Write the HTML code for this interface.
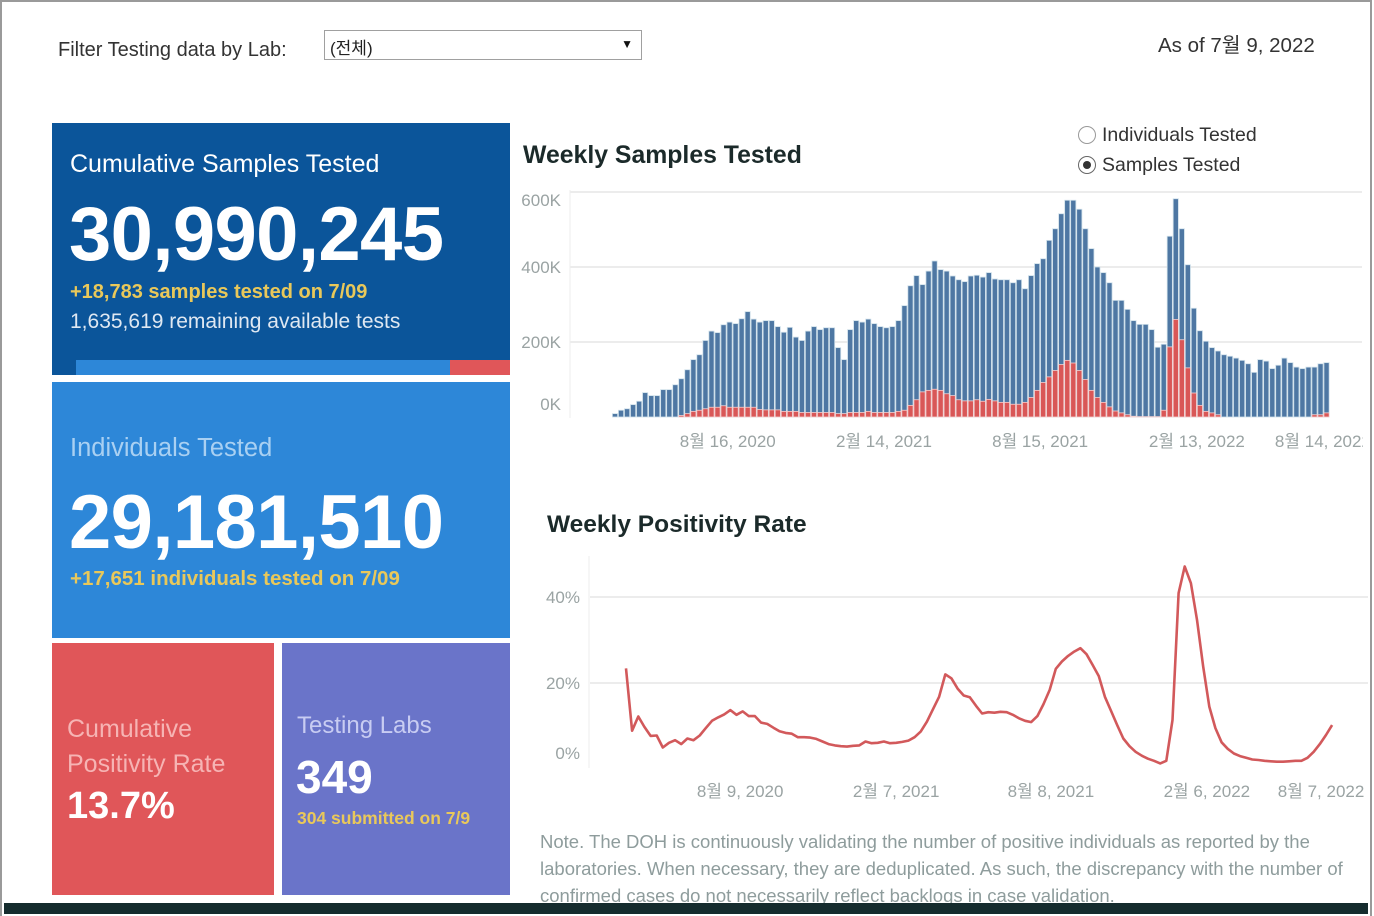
<!DOCTYPE html>
<html><head><meta charset="utf-8">
<style>
html,body{margin:0;padding:0}
body{width:1374px;height:916px;position:relative;overflow:hidden;background:#fff;font-family:"Liberation Sans","Noto Sans CJK KR",sans-serif}
.abs{position:absolute;white-space:nowrap}
.panel{position:absolute}
</style></head><body>
<div class="abs" style="left:0;top:0;width:1368px;height:914px;border-left:2px solid #9a9a9a;border-top:2px solid #9a9a9a;border-right:2px solid #9a9a9a"></div>
<div class="abs" style="left:4px;top:903px;width:1364px;height:11px;background:#152c2e"></div>

<div class="abs" style="left:58px;top:39px;font-size:20px;color:#333">Filter Testing data by Lab:</div>
<div class="abs" style="left:324px;top:30px;width:316px;height:28px;border:1px solid #a0a0a0;background:#fff">
 <span style="position:absolute;left:5px;top:3px;font-size:17px;color:#222">(전체)</span>
 <span style="position:absolute;right:8px;top:6px;font-size:12px;color:#111">▼</span>
</div>
<div class="abs" style="left:1158px;top:28px;font-size:20.5px;color:#333">As of 7월 9, 2022</div>

<div class="panel" style="left:52px;top:123px;width:458px;height:252px;background:#0b559a">
 <div class="abs" style="left:18px;top:27px;font-size:25px;color:#fff">Cumulative Samples Tested</div>
 <div class="abs" style="left:17px;top:68px;font-size:76px;font-weight:bold;color:#fff;letter-spacing:-0.6px">30,990,245</div>
 <div class="abs" style="left:18px;top:158px;font-size:20px;font-weight:bold;color:#e9c85a">+18,783 samples tested on 7/09</div>
 <div class="abs" style="left:18px;top:187px;font-size:21px;color:#dfe8f2">1,635,619 remaining available tests</div>
 <div class="abs" style="left:24px;top:237px;width:374px;height:15px;background:#2d87d8"></div>
 <div class="abs" style="left:398px;top:237px;width:60px;height:15px;background:#e05659"></div>
</div>

<div class="panel" style="left:52px;top:382px;width:458px;height:256px;background:#2d87d8">
 <div class="abs" style="left:18px;top:52px;font-size:25.5px;color:#a9d0f2">Individuals Tested</div>
 <div class="abs" style="left:17px;top:97px;font-size:76px;font-weight:bold;color:#fff;letter-spacing:-0.6px">29,181,510</div>
 <div class="abs" style="left:18px;top:185px;font-size:20.5px;font-weight:bold;color:#e9c85a">+17,651 individuals tested on 7/09</div>
</div>

<div class="panel" style="left:52px;top:643px;width:222px;height:252px;background:#e05659">
 <div class="abs" style="left:15px;top:69px;font-size:25px;line-height:35px;color:#f6b4b4">Cumulative<br>Positivity Rate</div>
 <div class="abs" style="left:15px;top:142px;font-size:38px;font-weight:bold;color:#fff">13.7%</div>
</div>

<div class="panel" style="left:282px;top:643px;width:228px;height:252px;background:#6a74c9">
 <div class="abs" style="left:15px;top:69px;font-size:24px;color:#c8ccf2">Testing Labs</div>
 <div class="abs" style="left:14px;top:107px;font-size:46px;font-weight:bold;color:#fff">349</div>
 <div class="abs" style="left:15px;top:165px;font-size:17.5px;font-weight:bold;color:#e9c85a">304 submitted on 7/9</div>
</div>

<div class="abs" style="left:523px;top:142px;font-size:24.8px;font-weight:bold;color:#1b2a2a">Weekly Samples Tested</div>
<div class="abs" style="left:1078px;top:124px;font-size:19.5px;color:#333"><span style="display:inline-block;width:16px;height:16px;border:1px solid #999;border-radius:50%;vertical-align:-3px;margin-right:6px"></span>Individuals Tested</div>
<div class="abs" style="left:1078px;top:154px;font-size:19.5px;color:#333"><span style="display:inline-block;width:16px;height:16px;border:1px solid #666;border-radius:50%;vertical-align:-3px;margin-right:6px;position:relative"><span style="position:absolute;left:4px;top:4px;width:8px;height:8px;border-radius:50%;background:#333"></span></span>Samples Tested</div>
<div class="abs" style="left:547px;top:511px;font-size:24.5px;font-weight:bold;color:#1b2a2a">Weekly Positivity Rate</div>
<div class="abs" style="left:540px;top:828px;width:828px;height:75px;overflow:hidden;white-space:normal;font-size:18.5px;line-height:27px;color:#8e9c9c">Note. The DOH is continuously validating the number of positive individuals as reported by the laboratories. When necessary, they are deduplicated. As such, the discrepancy with the number of confirmed cases do not necessarily reflect backlogs in case validation.</div>

<svg id="charts" width="1374" height="916" style="position:absolute;left:0;top:0" font-family="Liberation Sans, sans-serif">
 <defs><clipPath id="bc"><rect x="560" y="180" width="803" height="280"/></clipPath></defs>
 <g id="barAxis"></g>
 <g id="barChart" clip-path="url(#bc)"></g>
 <g id="lineChart"></g>
</svg>

<script>
const samples = [9,18,22,33,42,65,57,57,73,73,86,102,126,153,166,204,229,225,246,253,249,262,281,261,253,257,257,241,226,239,213,204,229,241,233,238,238,185,153,233,257,253,261,249,241,238,241,257,297,350,377,353,389,416,393,389,376,366,361,376,378,373,385,368,366,366,358,366,342,377,409,422,471,502,542,578,578,554,502,449,400,385,358,311,311,287,257,247,247,233,186,194,482,582,502,406,290,230,202,185,176,166,162,157,151,142,119,153,149,129,138,157,145,133,129,133,133,142,145];
const positives = [0,0,0,0,0,0,0,0,0,0,0,4,9,15,18,22,26,26,30,26,26,26,26,26,20,19,19,19,15,15,15,12,12,12,12,12,12,9,9,12,12,12,15,12,12,12,12,15,18,31,46,67,71,74,71,62,57,46,43,43,46,42,47,43,39,39,34,34,39,52,71,92,107,124,140,151,144,124,100,71,52,39,27,16,11,6,2,1,1,1,1,18,187,260,206,131,64,31,15,11,6,0,0,0,0,0,0,0,0,0,0,0,0,0,0,0,6,6,11];
const barTicks = [0,200,400,600];
const barTickLabels = ["0K","200K","400K","600K"];
const barDateIdx = [18.7,44.6,70.5,96.5,117.4];
const barDateLabels = ["8월 16, 2020","2월 14, 2021","8월 15, 2021","2월 13, 2022","8월 14, 2022"];

const positivity = [23.4,8.9,12.2,9.8,7.7,7.8,5.0,6.1,6.7,5.8,7.1,6.7,7.8,9.5,11.2,12.0,12.7,13.7,12.6,13.4,12.3,12.3,10.8,10.5,9.6,8.8,8.4,8.2,7.4,7.4,7.3,7.0,6.4,5.8,5.5,5.3,5.2,5.4,5.5,6.4,6.0,6.1,6.4,6.0,6.1,6.3,6.6,7.4,8.7,11.0,13.9,16.8,22.0,21.1,18.7,17.1,16.7,14.7,12.9,13.2,13.1,13.3,13.2,12.6,11.8,11.2,10.9,12.3,15.1,18.4,23.3,25.0,26.3,27.3,28.1,26.7,24.2,21.6,16.8,13.5,10.2,7.1,5.3,4.0,3.1,2.4,1.9,1.3,1.9,11.4,40.9,47.1,43.2,34.7,23.8,14.5,9.5,6.2,4.7,3.6,3.0,2.6,2.2,2.1,1.9,1.8,1.7,1.7,1.8,1.9,1.9,2.6,4.0,5.8,7.9,10.2];
const posTicks = [0,20,40];
const posTickLabels = ["0%","20%","40%"];
const posDateIdx = [18.6,44,69.2,94.6,113.2];
const posDateLabels = ["8월 9, 2020","2월 7, 2021","8월 8, 2021","2월 6, 2022","8월 7, 2022"];

const NS = "http://www.w3.org/2000/svg";
function mk(tag, attrs, parent){const e=document.createElementNS(NS,tag);for(const k in attrs)e.setAttribute(k,attrs[k]);parent.appendChild(e);return e;}

const bx = i => 615 + i*6.03;
const by = v => 417 - v*0.375;
const bg = document.getElementById('barChart');
const bax = document.getElementById('barAxis');
barTicks.forEach((t,k)=>{
  if(t>0){const g=mk('line',{x1:570,x2:1362,y1:by(t),y2:by(t),stroke:'#e6e6e6','stroke-width':1.5},bax);
  
  }
  const tx=mk('text',{x:561,y:Math.min(Math.max(by(t),200),404)+6,'text-anchor':'end','font-size':17,fill:'#9aa3a3'},bax);
  tx.textContent=barTickLabels[k];
  
  
});
const ax=mk('line',{x1:570,x2:570,y1:190,y2:418,stroke:'#eeeeee','stroke-width':1},bax);


samples.forEach((v,i)=>{
  const r=mk('rect',{x:bx(i)-2.6,y:by(v),width:5.2,height:417-by(v),fill:'#4e77a3',stroke:'#cfe0ea','stroke-width':0.8},bg);
  
  
  if(positives[i]>0){
    const p=mk('rect',{x:bx(i)-2.6,y:by(positives[i]),width:5.2,height:417-by(positives[i]),fill:'#d95757',stroke:'#f3d0d0','stroke-width':0.8},bg);
    
    
  }
});
barDateLabels.forEach((l,k)=>{
  const t=mk('text',{x:bx(barDateIdx[k]),y:447,'text-anchor':'middle','font-size':17,fill:'#9aa3a3'},bg);
  t.textContent=l;
  
  
});

const lx = i => 626 + i*6.14;
const ly = v => 769 - v*4.3;
const lg = document.getElementById('lineChart');
const la=mk('line',{x1:589,x2:589,y1:556,y2:768,stroke:'#eeeeee','stroke-width':1},lg);


posTicks.forEach((t,k)=>{
  if(t>0){const g=mk('line',{x1:590,x2:1368,y1:ly(t),y2:ly(t),stroke:'#e6e6e6','stroke-width':1.5},lg);
  
  }
  const tx=mk('text',{x:580,y:Math.min(ly(t),753)+6,'text-anchor':'end','font-size':17,fill:'#9aa3a3'},lg);
  tx.textContent=posTickLabels[k];
  
  
});
const pts=positivity.map((v,i)=>lx(i).toFixed(1)+','+ly(v).toFixed(1)).join(' ');
const pl=mk('polyline',{points:pts,fill:'none',stroke:'#d2595b','stroke-width':2.6,'stroke-linejoin':'round'},lg);


posDateLabels.forEach((l,k)=>{
  const t=mk('text',{x:Math.min(lx(posDateIdx[k]),1322),y:797,'text-anchor':'middle','font-size':17,fill:'#9aa3a3'},lg);
  t.textContent=l;
  
  
});
</script>
</body></html>
